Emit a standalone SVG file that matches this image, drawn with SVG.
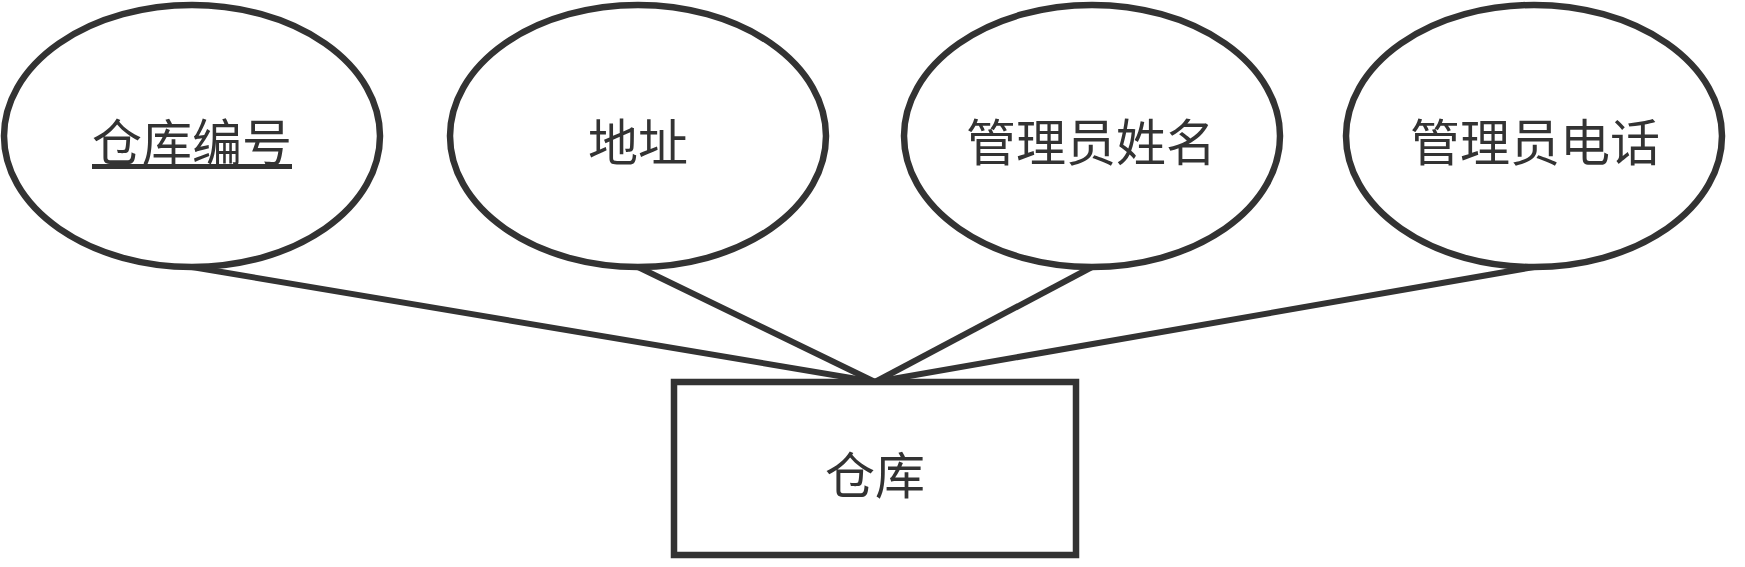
<svg xmlns="http://www.w3.org/2000/svg" width="1745" height="567" viewBox="0 0 1745 567">
<style>
.shape{fill:#ffffff;stroke:#333333;stroke-width:6.5}
.conn{stroke:#333333;stroke-width:6;fill:none}
.lbl{font-family:"Noto Sans CJK SC","Liberation Sans",sans-serif;font-size:50px;fill:#333333;text-anchor:middle}
</style>
<rect width="1745" height="567" fill="#ffffff"/>
<g id="connectors">
<line class="conn" x1="192" y1="267" x2="875" y2="382"/>
<line class="conn" x1="638" y1="267" x2="875" y2="382"/>
<line class="conn" x1="1092" y1="267" x2="875" y2="382"/>
<line class="conn" x1="1534" y1="267" x2="875" y2="382"/>
</g>
<g id="attr-id">
<ellipse class="shape" cx="192" cy="136" rx="188" ry="131"/>
<text class="lbl" x="192" y="161" text-decoration="underline">仓库编号</text>
</g>
<g id="attr-address">
<ellipse class="shape" cx="638" cy="136" rx="188" ry="131"/>
<text class="lbl" x="638" y="161">地址</text>
</g>
<g id="attr-manager-name">
<ellipse class="shape" cx="1092" cy="136" rx="188" ry="131"/>
<text class="lbl" x="1091" y="161">管理员姓名</text>
</g>
<g id="attr-manager-phone">
<ellipse class="shape" cx="1534" cy="136" rx="188" ry="131"/>
<text class="lbl" x="1535" y="161">管理员电话</text>
</g>
<g id="entity-warehouse">
<rect class="shape" x="674" y="382" width="402" height="173"/>
<text class="lbl" x="875" y="494">仓库</text>
</g>
</svg>
